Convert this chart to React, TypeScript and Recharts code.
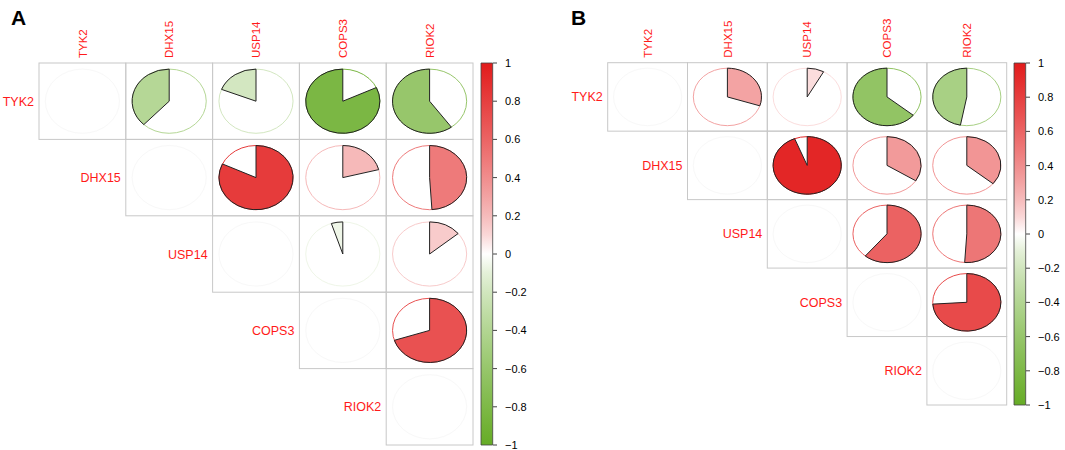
import React from 'react';
import { ScatterChart, Scatter, XAxis, YAxis, BarChart, Bar } from 'recharts';

const genes = ['TYK2', 'DHX15', 'USP14', 'COPS3', 'RIOK2'];

// upper triangle of the correlation matrix, null = no pie drawn
const corrA = [
    [null, -0.38, -0.19, -0.82, -0.60],
    [null, null, 0.82, 0.21, 0.49],
    [null, null, null, -0.05, 0.14],
    [null, null, null, null, 0.70],
    [null, null, null, null, null],
];

const corrB = [
    [null, 0.30, 0.08, -0.64, -0.47],
    [null, null, 0.94, 0.34, 0.36],
    [null, null, null, 0.61, 0.51],
    [null, null, null, null, 0.74],
    [null, null, null, null, null],
];

const colorTicks = [1, 0.8, 0.6, 0.4, 0.2, 0, -0.2, -0.4, -0.6, -0.8, -1];

const FONT = '"Liberation Sans", Arial, sans-serif';
const RED = [226, 28, 28];
const GREEN = [102, 172, 38];

const colorFor = (v: number) => {
    const end = v >= 0 ? RED : GREEN;
    const t = Math.pow(Math.min(1, Math.abs(v)), 0.75);
    const c = end.map(e => Math.round(255 + (e - 255) * t));
    return `rgb(${c[0]},${c[1]},${c[2]})`;
};

const cellPoints = (m: (number | null)[][]) => {
    const pts: { col: number; row: number; r: number | null }[] = [];
    m.forEach((row, i) => row.forEach((v, j) => {
        if (j >= i) pts.push({ col: j, row: i, r: v });
    }));
    return pts;
};

const piePath = (cx: number, cy: number, rx: number, ry: number, r: number) => {
    const ang = Math.abs(r) * 2 * Math.PI;
    const dir = r >= 0 ? 1 : -1;
    const ex = cx + dir * rx * Math.sin(ang);
    const ey = cy - ry * Math.cos(ang);
    const large = ang > Math.PI ? 1 : 0;
    const sweep = r >= 0 ? 1 : 0;
    return `M${cx},${cy} L${cx},${cy - ry} A${rx},${ry} 0 ${large} ${sweep} ${ex},${ey} Z`;
};

const makeCellShape = (cw: number, ch: number) => (props: any) => {
    const { cx, cy, payload } = props;
    const { row, col, r } = payload;
    const rx = cw * 0.427;
    const ry = ch * 0.42;
    return (
        <g>
            <rect x={cx - cw / 2} y={cy - ch / 2} width={cw} height={ch} fill="none" stroke="#c8c8c8" strokeWidth={1} />
            {row === 0 && (
                <text
                    x={cx} y={cy - ch / 2 - 5}
                    transform={`rotate(-90 ${cx} ${cy - ch / 2 - 5})`}
                    dy="0.36em" fontSize={11.5} fill="#ff1a1a" fontFamily={FONT}
                >
                    {genes[col]}
                </text>
            )}
            {row === col && (
                <text
                    x={cx - cw / 2 - 5} y={cy} dy="0.36em" textAnchor="end"
                    fontSize={12.5} fill="#ff1a1a" fontFamily={FONT}
                >
                    {genes[row]}
                </text>
            )}
            {r == null ? (
                <ellipse cx={cx} cy={cy} rx={rx} ry={ry} fill="none" stroke="#f8f8f8" strokeWidth={1} />
            ) : (
                <>
                    <ellipse cx={cx} cy={cy} rx={rx} ry={ry} fill="none" stroke={colorFor(r)} strokeWidth={1} />
                    <path d={piePath(cx, cy, rx, ry, r)} fill={colorFor(r)} stroke="#222" strokeWidth={1} />
                </>
            )}
        </g>
    );
};

interface PanelProps {
    matrix: (number | null)[][];
    left: number;
    width: number;
    margin: { top: number; left: number; right: number; bottom: number };
}

const CorrPanel: React.FC<PanelProps> = ({ matrix, left, width, margin }) => {
    const cw = (width - margin.left - margin.right) / 5;
    const ch = (450 - margin.top - margin.bottom) / 5;
    return (
        <div style={{ position: 'absolute', left, top: 0 }}>
            <ScatterChart width={width} height={450} margin={margin}>
                <XAxis type="number" dataKey="col" domain={[-0.5, 4.5]} hide />
                <YAxis type="number" dataKey="row" domain={[-0.5, 4.5]} reversed hide />
                <Scatter data={cellPoints(matrix)} shape={makeCellShape(cw, ch)} isAnimationActive={false} />
            </ScatterChart>
        </div>
    );
};

const ColorBar: React.FC<{ id: string; left: number; top: number; bottom: number }> = ({ id, left, top, bottom }) => (
    <div style={{ position: 'absolute', left, top: 0 }}>
        <BarChart width={62} height={450} data={[{ name: 'cb', range: [-1, 1] }]} margin={{ top, bottom, left: 10, right: 0 }}>
            <defs>
                <linearGradient id={id} x1="0" y1="0" x2="0" y2="1">
                    {[1, 0.9, 0.8, 0.7, 0.6, 0.5, 0.4, 0.3, 0.2, 0.1, 0, -0.1, -0.2, -0.3, -0.4, -0.5, -0.6, -0.7, -0.8, -0.9, -1].map(v => (
                        <stop key={v} offset={`${((1 - v) / 2) * 100}%`} stopColor={colorFor(v)} />
                    ))}
                </linearGradient>
            </defs>
            <XAxis dataKey="name" hide />
            <YAxis
                orientation="right" type="number" domain={[-1, 1]} ticks={colorTicks} interval={0}
                width={39} axisLine={false} tickSize={4} tickMargin={8}
                tickLine={{ stroke: '#444' }}
                tick={{ fontSize: 11, fill: '#000', fontFamily: FONT }}
                tickFormatter={(v: number) => (v === 0 ? '0' : String(v).replace('-', '\u2212'))}
            />
            <Bar dataKey="range" barSize={13} fill={`url(#${id})`} stroke="#444" strokeWidth={0.8} isAnimationActive={false} />
        </BarChart>
    </div>
);

export default function App() {
    return (
        <div style={{ position: 'absolute', left: 0, top: 0, width: 1065, height: 450, background: '#fff', fontFamily: FONT }}>
            <div style={{ position: 'absolute', left: 11, top: 6, fontSize: 21, fontWeight: 'bold' }}>A</div>
            <div style={{ position: 'absolute', left: 571, top: 6, fontSize: 21, fontWeight: 'bold' }}>B</div>
            <CorrPanel matrix={corrA} left={0} width={480} margin={{ top: 63, left: 39, right: 7, bottom: 5 }} />
            <ColorBar id="gradA" left={470} top={63} bottom={5} />
            <CorrPanel matrix={corrB} left={540} width={470} margin={{ top: 62.7, left: 67.7, right: 3.3, bottom: 45 }} />
            <ColorBar id="gradB" left={1003} top={63} bottom={45} />
        </div>
    );
}
